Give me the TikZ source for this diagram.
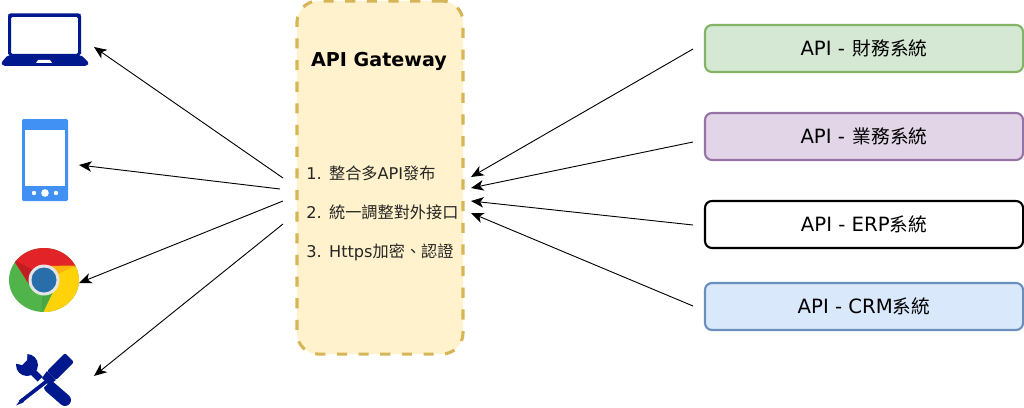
\documentclass[tikz,border=0pt]{standalone}
\usepackage{fontspec}
\setmainfont{DejaVu Sans}
\newfontfamily\cjkfont{Noto Sans CJK TC}
\newfontfamily\cjkapi[Scale=0.95]{Noto Sans CJK TC}
\usetikzlibrary{arrows.meta, positioning}
\definecolor{navyicon}{HTML}{00188D}
\definecolor{phoneblue}{HTML}{4191F5}
\definecolor{gatewayline}{HTML}{D6B656}
\definecolor{gatewayfill}{HTML}{FFF2CC}
\definecolor{finline}{HTML}{82B366}
\definecolor{finfill}{HTML}{D5E8D4}
\definecolor{bizline}{HTML}{9673A6}
\definecolor{bizfill}{HTML}{E1D5E7}
\definecolor{crmline}{HTML}{6C8EBF}
\definecolor{crmfill}{HTML}{DAE8FC}
\definecolor{chromered}{HTML}{E22328}
\definecolor{chromegreen}{HTML}{50B44B}
\definecolor{chromeyellow}{HTML}{FFD20A}
\definecolor{chromeblue}{HTML}{286EAA}
\definecolor{chromering}{HTML}{E4E4E4}
\begin{document}
\begin{tikzpicture}[
    x=0.025cm, y=-0.025cm,
    api/.style = {rectangle, draw=#1, rounded corners=5pt, line width=1.5pt, minimum width=7.95cm, minimum height=1.175cm, inner sep=0pt, font=\fontsize{14pt}{17pt}\selectfont},
    gateway/.style = {rectangle, draw=gatewayline, fill=gatewayfill, rounded corners=15pt, line width=2.2pt, dash pattern=on 7.2pt off 8.2pt, minimum width=4.15cm, minimum height=8.825cm, inner sep=0pt},
    item/.style = {anchor=west, inner sep=0pt, font=\fontsize{11.5pt}{14pt}\selectfont, text=black!85},
    arrow/.style = {draw=black, -{Stealth[length=9pt,width=7.5pt,inset=2.5pt]}, line width=0.65pt}
]
\useasboundingbox (0,0) rectangle (1024,407);

% Middle: gateway box with its list
\node (gw) [gateway] at (380, 177.5) {};
\node (gwtitle) [font=\bfseries\fontsize{13.6pt}{16pt}\selectfont] at (379, 61) {API Gateway};
\node (item1) [item] at (306, 173.5) {1. \kern0.4pt{\cjkfont 整合多}API{\cjkfont 發布}};
\node (item2) [item] at (306, 212.5) {2. \kern0.4pt{\cjkfont 統一調整對外接口}};
\node (item3) [item] at (306, 252.5) {3. \kern0.4pt Https{\cjkfont 加密、認證}};

% Right: API boxes
\node (fin) [api=finline, fill=finfill] at (864, 48.5) {API - \kern1pt{\cjkapi 財務系統}};
\node (biz) [api=bizline, fill=bizfill] at (864, 136.5) {API - \kern1pt{\cjkapi 業務系統}};
\node (erp) [api=black, fill=white] at (864, 224.5) {API - ERP{\cjkapi 系統}};
\node (crm) [api=crmline, fill=crmfill] at (864, 306.5) {API - CRM{\cjkapi 系統}};

% Left: client icons
% laptop
\fill [navyicon, even odd rule, rounded corners=1pt] (8,15) -- (9,13.5) -- (80,13.5) -- (81,15) -- (81,55) -- (8,55) -- cycle (11,17) rectangle (78,54);
\fill [navyicon, rounded corners=1.5pt] (8,55) -- (81,55) -- (89,63) -- (87,66) -- (3,66) -- (1,63) -- cycle;
\fill [white] (38,60) -- (50,60) -- (52,63) -- (36,63) -- cycle;
% phone
\fill [phoneblue, rounded corners=1pt] (22,119) rectangle (68,201);
\fill [white] (24.5,129.5) rectangle (65,186);
\fill [white] (34,193) circle (2.2) (45,193) circle (3.8) (56,193) circle (2.2);
% chrome
\begin{scope}
    \clip (44,280) ellipse [x radius=35, y radius=32];
    \fill [chromegreen] (0,240) rectangle (90,320);
    \fill [chromeyellow] (44,266) -- (90,262) -- (90,320) -- (40,320) -- (53,292) -- cycle;
    \fill [chromered] (12,258) -- (20,240) -- (90,240) -- (90,266.5) -- (44,266) -- (29,284) -- cycle;
    \fill [chromered!85!black] (14,260) -- (29,284) -- (33,270) -- cycle;
    \fill [chromeyellow!85!red] (76,265.5) -- (44,266) -- (58,274) -- cycle;
    \fill [chromegreen!92!black] (42,312) -- (53,292) -- (42,294) -- cycle;
\end{scope}
\fill [chromering] (44,280) circle (15.5);
\fill [chromeblue] (44,280) circle (12.5);
% tools
\fill [navyicon] (27,365) circle (11);
\fill [white] (27.5,353) -- (27,360) -- (22,365) -- (15.5,363.5) -- (10,350) -- cycle;
\draw [navyicon, line width=5pt] (28,367) -- (48,387);
\draw [navyicon, line width=8.5pt, line cap=round] (50,387) -- (65,400);
\draw [white, line width=6pt] (54,372) -- (36,389);
\fill [navyicon, rounded corners=1.5pt] (65,353) -- (74,362) -- (56,380) -- (47,371) -- cycle;
\fill [navyicon] (47,371) -- (56,380) -- (49,385) -- (42,378) -- cycle;
\draw [navyicon, line width=2.6pt] (47,381) -- (20,402);
\fill [navyicon] (22,398) -- (24,402) -- (16,405.5) -- cycle;

% Connectors: gateway out to clients
\coordinate (outa) at (283, 178);
\coordinate (outb) at (280, 189);
\coordinate (outc) at (283, 201);
\coordinate (outd) at (283, 224);
\coordinate (ina) at (471, 177);
\coordinate (inb) at (471, 188);
\coordinate (inc) at (471, 201);
\coordinate (ind) at (471, 213);
\coordinate (laptopin) at (94, 47);
\coordinate (phonein) at (79, 165);
\coordinate (chromein) at (79, 283);
\coordinate (toolsin) at (94, 376);
\coordinate (finout) at (693, 49);
\coordinate (bizout) at (693, 142);
\coordinate (erpout) at (693, 225);
\coordinate (crmout) at (693, 306);
\draw [arrow] (outa) -- (laptopin);
\draw [arrow] (outb) -- (phonein);
\draw [arrow] (outc) -- (chromein);
\draw [arrow] (outd) -- (toolsin);
\draw [arrow] (finout) -- (ina);
\draw [arrow] (bizout) -- (inb);
\draw [arrow] (erpout) -- (inc);
\draw [arrow] (crmout) -- (ind);

\end{tikzpicture}
\end{document}
